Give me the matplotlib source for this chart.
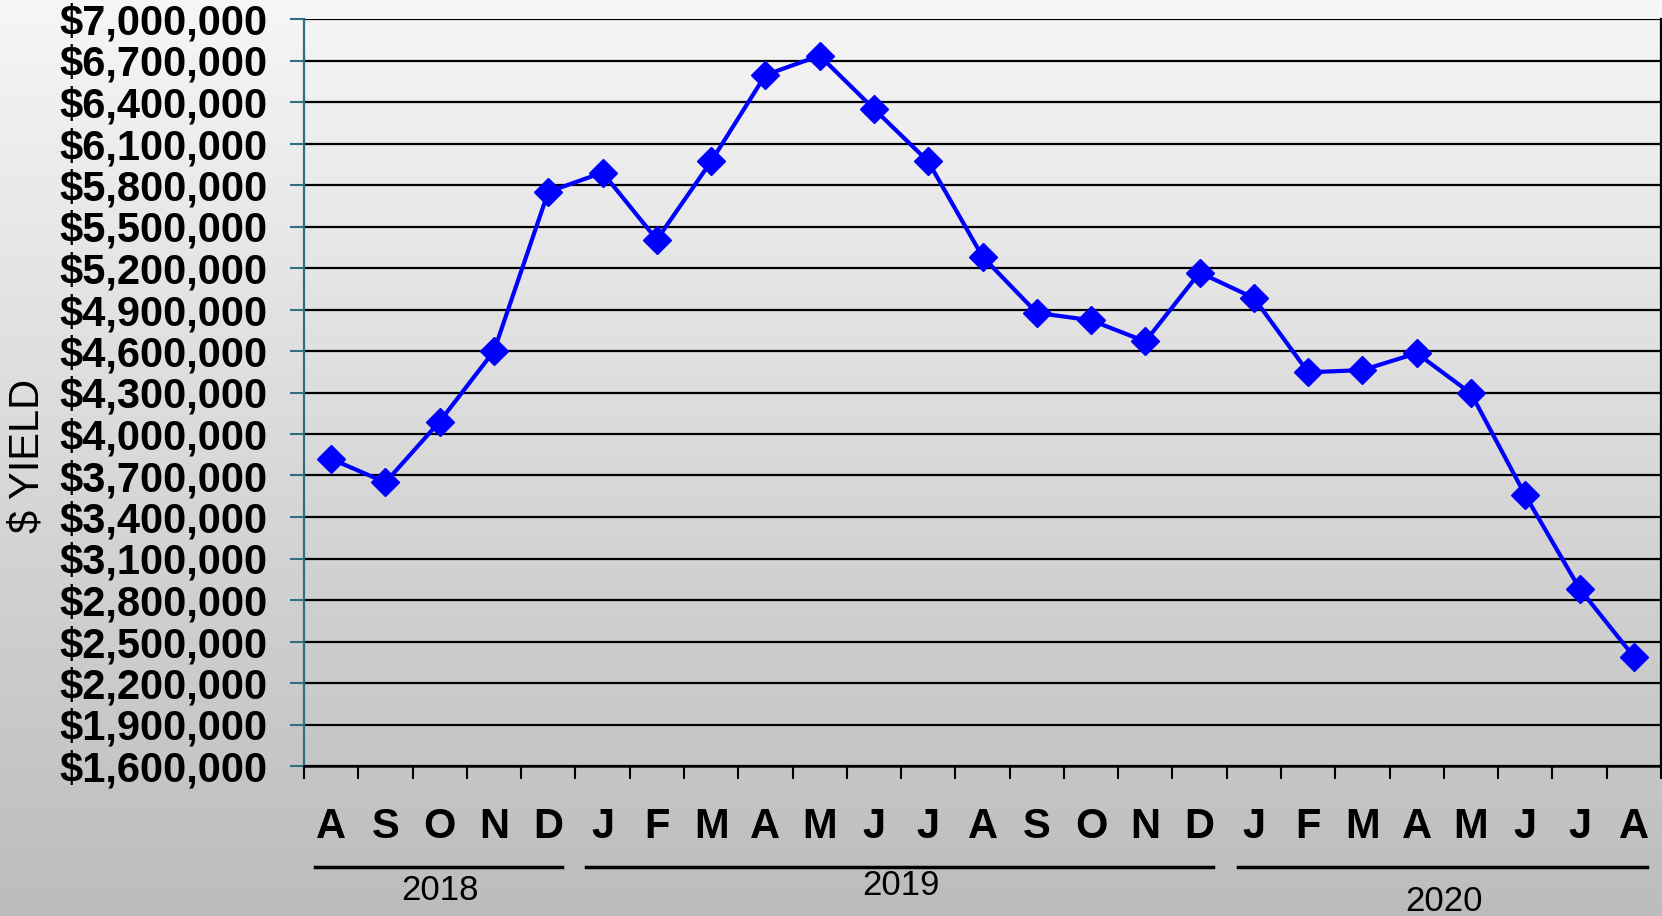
import numpy as np
import matplotlib
matplotlib.use("Agg")
import matplotlib.pyplot as plt

# monthly $ yield, Aug 2018 .. Aug 2020
months = ["A", "S", "O", "N", "D",
          "J", "F", "M", "A", "M", "J", "J", "A", "S", "O", "N", "D",
          "J", "F", "M", "A", "M", "J", "J", "A"]
yield_usd = [3820000, 3650000, 4090000, 4600000, 5750000,
             5890000, 5405000, 5970000, 6595000, 6735000, 6350000, 5970000,
             5282000, 4876000, 4822000, 4669000, 5167000,
             4983000, 4446000, 4462000, 4584000, 4293000, 3557000, 2882000, 2390000]
y_ticks = list(range(1600000, 7000001, 300000))
years = ["2018", "2019", "2020"]
year_first = [0, 5, 17]
year_last = [4, 16, 24]

fig = plt.figure(figsize=(16.62, 9.16), dpi=100)

# background gradient
bg = fig.add_axes([0, 0, 1, 1], zorder=-10)
grad = np.linspace(0, 1, 256).reshape(-1, 1)
cmap = matplotlib.colors.LinearSegmentedColormap.from_list("bg", ["#f6f6f6", "#bcbcbc"])
bg.imshow(grad, aspect="auto", cmap=cmap, extent=[0, 1, 0, 1], origin="upper")
bg.axis("off")

ax = fig.add_axes([304 / 1662, 1 - 766 / 916, 1357 / 1662, 747 / 916])
ax.set_facecolor("none")

x = np.arange(len(months))
ax.plot(x, yield_usd, color="#0000ff", lw=3, marker="D", markersize=14,
        markerfacecolor="#0000ff", markeredgecolor="#0000ff", zorder=5, clip_on=False)

ax.set_xlim(-0.5, len(months) - 0.5)
ax.set_ylim(1600000, 7000000)
ax.set_yticks(y_ticks)
ax.set_yticklabels(["${:,}".format(v) for v in y_ticks], fontsize=30,
                   fontweight="bold", family="Liberation Sans")
ax.tick_params(axis="y", direction="out", length=10, width=1.5, color="#2f6f7f", pad=16)
ax.grid(axis="y", color="black", lw=1.6)
ax.set_axisbelow(True)

# category boundary ticks on the x axis
ax.set_xticks(np.arange(len(months) + 1) - 0.5)
ax.set_xticklabels([])
ax.tick_params(axis="x", direction="out", length=9, width=1.5, color="black")

ax.spines["left"].set_color("#2f6f7f")
ax.spines["left"].set_linewidth(1.6)
ax.spines["bottom"].set_linewidth(1.8)
ax.spines["right"].set_linewidth(1.6)
ax.spines["top"].set_visible(False)

tr = ax.get_xaxis_transform()
for i, m in enumerate(months):
    ax.text(i, -0.082, m, transform=tr, ha="center", va="center",
            fontsize=30, fontweight="bold", family="Liberation Sans")

year_y = [-0.166, -0.160, -0.181]
for yr, a, b, yy in zip(years, year_first, year_last, year_y):
    ax.plot([a - 0.3, b + 0.25], [-0.135, -0.135], transform=tr, color="black",
            lw=2.5, clip_on=False)
    ax.text((a + b) / 2, yy, yr, transform=tr, ha="center", va="center",
            fontsize=25, family="Liberation Sans")

fig.text(28 / 1662, 1 - 456 / 916, "$ YIELD", rotation=90, ha="center", va="center",
         fontsize=30, family="Liberation Sans")

fig.savefig("out.png", dpi=100)
